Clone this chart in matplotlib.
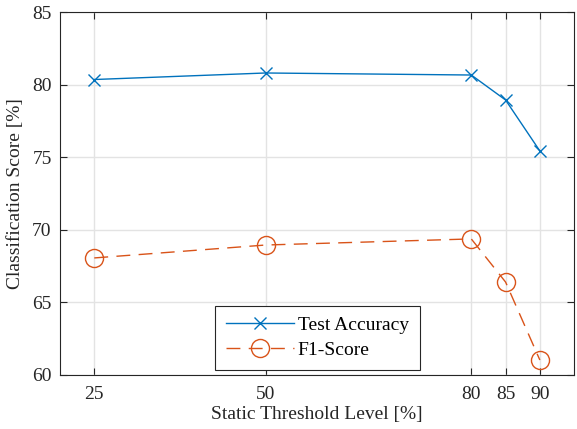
import matplotlib
matplotlib.use("Agg")
import matplotlib.pyplot as plt

thresholds = [25, 50, 80, 85, 90]
test_accuracy = [80.35, 80.8, 80.66, 78.94, 75.43]
f1_score = [68.06, 68.95, 69.37, 66.4, 61.03]
yticks = [60, 65, 70, 75, 80, 85]

plt.rcParams['font.family'] = ['Liberation Serif', 'DejaVu Serif']
plt.rcParams['mathtext.fontset'] = 'stix'

fig = plt.figure(figsize=(5.77, 4.29), dpi=100)
ax = fig.add_axes([0.104, 0.126, 0.891, 0.846])

ax.plot(thresholds, test_accuracy, color='#0072BD', lw=1.0, marker='x',
        markersize=9, markeredgewidth=1.0, label='Test Accuracy')
ax.plot(thresholds, f1_score, color='#D95319', lw=1.0, marker='o',
        markersize=13, markerfacecolor='none', markeredgewidth=1.0,
        dashes=(10, 6), label='F1-Score')

ax.set_xlim(20, 95)
ax.set_ylim(60, 85)
ax.set_xticks(thresholds)
ax.set_yticks(yticks)
ax.tick_params(direction='in', labelsize=14, length=5, width=0.8,
               top=True, right=True, colors='#262626', labelcolor='#262626')
ax.tick_params(axis='x', pad=8)
ax.tick_params(axis='y', pad=6)
ax.grid(True, color='#e3e3e3', lw=1.0)
ax.set_axisbelow(True)
for s in ax.spines.values():
    s.set_color('#262626')
    s.set_linewidth(0.8)

ax.set_xlabel('Static Threshold Level [%]', fontsize=14, color='#262626', labelpad=2)
ax.set_ylabel('Classification Score [%]', fontsize=14, color='#262626', labelpad=6)

leg = ax.legend(loc='lower left', bbox_to_anchor=(0.3016, 0.0138), fontsize=14,
                fancybox=False, framealpha=1, edgecolor='#262626',
                handlelength=3.5, borderpad=0.55, labelspacing=0.4,
                handletextpad=0.2, borderaxespad=0)
leg.get_frame().set_linewidth(0.8)

fig.savefig('out.png', dpi=100)
